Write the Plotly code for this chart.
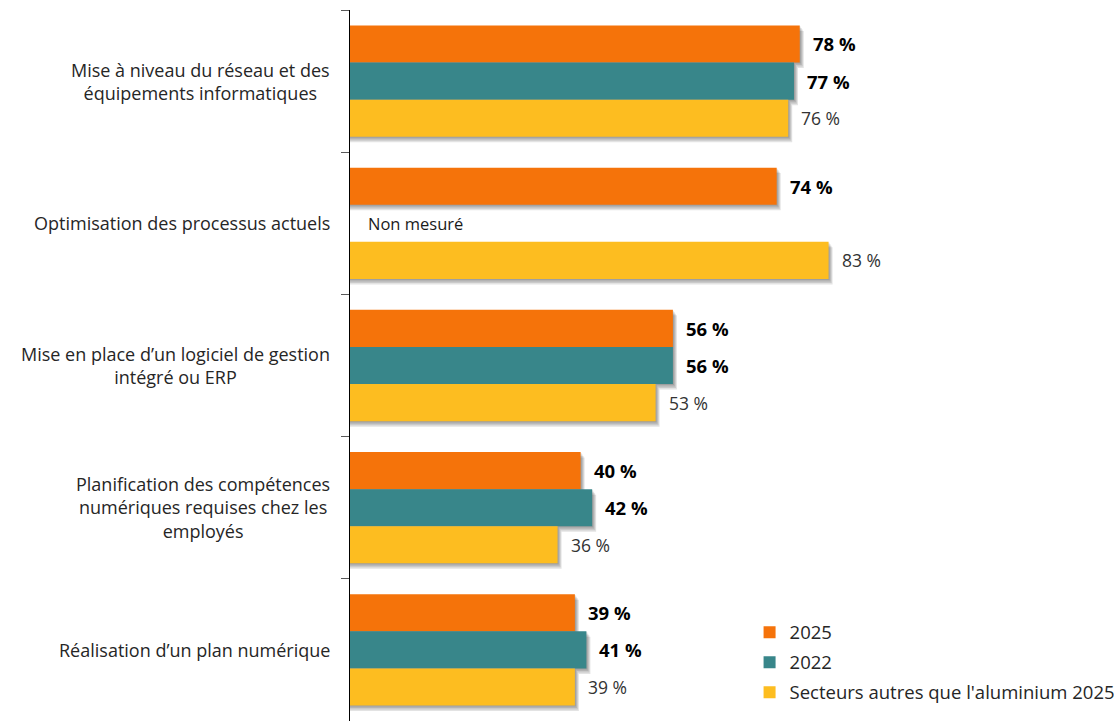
import plotly.graph_objects as go

# Categories (top to bottom) and series values in %
categories = [
    "Mise à niveau du réseau et des<br>équipements informatiques",
    "Optimisation des processus actuels",
    "Mise en place d’un logiciel de gestion<br>intégré ou ERP",
    "Planification des compétences<br>numériques requises chez les<br>employés",
    "Réalisation d’un plan numérique",
]
series_names = ["2025", "2022", "Secteurs autres que l'aluminium 2025"]
values_2025 = [78, 74, 56, 40, 39]
values_2022 = [77, None, 56, 42, 41]
values_other = [76, 83, 53, 36, 39]
missing_label = "Non mesuré"

colors = ["#F5730A", "#38868A", "#FDBD20"]
bold_labels = [True, True, False]
all_values = [values_2025, values_2022, values_other]

FONT = "Open Sans"
bar_w = 0.261
x_max = 132.5
fig = go.Figure()

shapes = []
annotations = []

for k, (name, vals, col) in enumerate(zip(series_names, all_values, colors)):
    ys = [i + (k - 1) * bar_w for i in range(len(categories))]
    fig.add_trace(go.Bar(
        x=vals, y=ys, orientation="h", name=name, width=bar_w,
        marker=dict(color=col, line=dict(width=0)),
        legendgroup=name, hoverinfo="skip",
    ))
    for y, v in zip(ys, vals):
        if v is None:
            annotations.append(dict(
                x=0, y=y, xref="x", yref="y", text=missing_label,
                xanchor="left", yanchor="middle", xshift=16, showarrow=False,
                font=dict(family=FONT, size=16.5, color="#1a1a1a"),
            ))
            continue
        # soft drop shadow: stacked translucent rectangles
        for dx, dy in [(1, 1), (2, 2.5), (3, 4), (4, 5.5)]:
            shapes.append(dict(
                type="rect", xref="x", yref="y", layer="below",
                x0=0, x1=v + dx / 5.767,
                y0=y - bar_w / 2 + dy / 142.3, y1=y + bar_w / 2 + dy / 142.3,
                fillcolor="rgba(0,0,0,0.11)", line=dict(width=0),
            ))
        txt = f"<b>{v} %</b>" if bold_labels[k] else f"{v} %"
        annotations.append(dict(
            x=v, y=y, xref="x", yref="y", text=txt,
            xanchor="left", yanchor="middle", xshift=11, showarrow=False,
            font=dict(family=FONT, size=18.5 if bold_labels[k] else 17.5,
                      color="#000000" if bold_labels[k] else "#333333"),
        ))

# category labels to the left of the axis
for i, c in enumerate(categories):
    annotations.append(dict(
        x=0, y=i, xref="paper", yref="y", text=c, align="center",
        xanchor="right", yanchor="middle", xshift=-18, showarrow=False,
        font=dict(family=FONT, size=18, color="#262626"),
    ))

fig.update_layout(
    width=1114, height=721,
    margin=dict(l=350, r=0, t=10, b=0, autoexpand=False),
    paper_bgcolor="white", plot_bgcolor="white",
    barmode="overlay",
    showlegend=True,
    legend=dict(
        x=0.523, y=0.151, xanchor="left", yanchor="top",
        font=dict(family=FONT, size=18.5, color="#262626"),
        tracegroupgap=3, bgcolor="rgba(0,0,0,0)",
    ),
    xaxis=dict(range=[0, x_max], visible=False, fixedrange=True),
    yaxis=dict(
        range=[4.5, -0.5], showgrid=False, zeroline=False,
        showline=True, linecolor="#000000", linewidth=1,
        tickvals=[-0.5, 0.5, 1.5, 2.5, 3.5, 4.5], ticks="outside",
        ticklen=8, tickcolor="#595959", showticklabels=False,
    ),
    shapes=shapes,
    annotations=annotations,
)

fig.write_html("out.html")
